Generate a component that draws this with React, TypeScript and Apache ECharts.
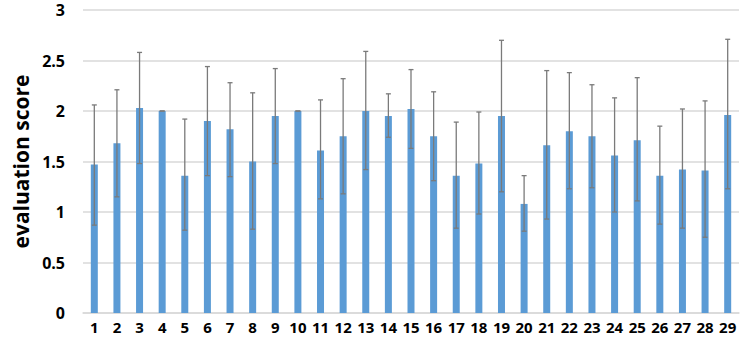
import React, { useEffect, useRef } from "react";
import * as echarts from "echarts";

const categories = ["1","2","3","4","5","6","7","8","9","10","11","12","13","14","15","16","17","18","19","20","21","22","23","24","25","26","27","28","29"];
const scores = [1.47,1.68,2.03,2.00,1.36,1.90,1.82,1.50,1.95,2.00,1.61,1.75,2.00,1.95,2.02,1.75,1.36,1.48,1.95,1.08,1.66,1.80,1.75,1.56,1.71,1.36,1.42,1.41,1.96];
const errLow = [0.87,1.15,1.48,2.00,0.82,1.36,1.35,0.83,1.48,2.00,1.13,1.18,1.42,1.74,1.63,1.31,0.84,0.98,1.20,0.81,0.93,1.23,1.24,1.00,1.11,0.88,0.84,0.75,1.23];
const errHigh = [2.06,2.21,2.58,2.00,1.92,2.44,2.28,2.18,2.42,2.00,2.11,2.32,2.59,2.17,2.41,2.19,1.89,1.99,2.70,1.36,2.40,2.38,2.26,2.13,2.33,1.85,2.02,2.10,2.71];

export default function App() {
  const ref = useRef<HTMLDivElement>(null);
  useEffect(() => {
    if (!ref.current) return;
    const chart = echarts.init(ref.current, null, { renderer: "svg" });
    const errData = categories.map((_, i) => [i, errLow[i], errHigh[i]]);
    const font = "'Open Sans', 'Liberation Sans', sans-serif";
    chart.setOption({
      animation: false,
      grid: { left: 83, right: 4, top: 10, bottom: 25, containLabel: false },
      xAxis: {
        type: "category",
        data: categories,
        axisTick: { show: false },
        axisLine: { show: true, lineStyle: { color: "#d9d9d9", width: 1.5 } },
        axisLabel: { color: "#000", fontWeight: "bold", fontSize: 15, fontFamily: font, margin: 6, interval: 0 },
      },
      yAxis: {
        type: "value",
        min: 0,
        max: 3,
        interval: 0.5,
        name: "evaluation score",
        nameLocation: "middle",
        nameRotate: 90,
        nameGap: 52,
        nameTextStyle: { color: "#000", fontWeight: "bold", fontSize: 21, fontFamily: font },
        axisLine: { show: false },
        axisTick: { show: false },
        splitLine: { lineStyle: { color: "#d9d9d9", width: 1.5 } },
        axisLabel: { color: "#000", fontWeight: "bold", fontSize: 16, fontFamily: font, margin: 18 },
      },
      series: [
        {
          type: "bar",
          data: scores,
          barWidth: 7,
          itemStyle: { color: "#5b9bd5" },
        },
        {
          type: "custom",
          data: errData,
          z: 10,
          renderItem: (params: any, api: any) => {
            const x = api.value(0);
            const lo = api.coord([x, api.value(1)]);
            const hi = api.coord([x, api.value(2)]);
            const cap = 2.5;
            const style = { stroke: "#7a7a7a", lineWidth: 1.3 };
            return {
              type: "group",
              children: [
                { type: "line", shape: { x1: lo[0], y1: lo[1], x2: hi[0], y2: hi[1] }, style },
                { type: "line", shape: { x1: lo[0] - cap, y1: lo[1], x2: lo[0] + cap, y2: lo[1] }, style },
                { type: "line", shape: { x1: hi[0] - cap, y1: hi[1], x2: hi[0] + cap, y2: hi[1] }, style },
              ],
            };
          },
        },
      ],
    });
    return () => chart.dispose();
  }, []);
  return <div ref={ref} style={{ position: "absolute", left: 0, top: 0, width: 743, height: 338 }} />;
}
